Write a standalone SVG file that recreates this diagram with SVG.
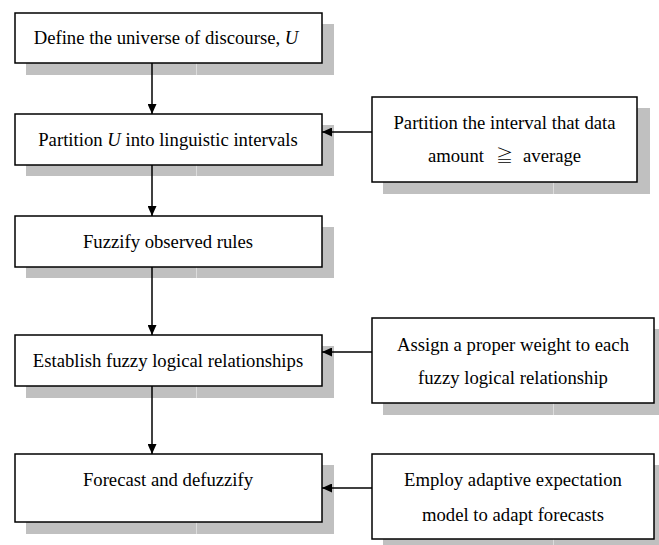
<svg xmlns="http://www.w3.org/2000/svg" width="659" height="545" viewBox="0 0 659 545">
<defs>
<style>
.sh{fill:#c0c0c0}
.seam{stroke:#dcdcdc;stroke-width:1}
.bx{fill:#fff;stroke:#000;stroke-width:1.5}
.t{font-family:"Liberation Serif","Times New Roman",serif;font-size:18.7px;fill:#000;text-anchor:middle}
.ge{font-family:"Noto Sans CJK JP","DejaVu Serif",serif;font-size:17px;font-weight:300}
.ln{stroke:#000;stroke-width:1.5;fill:none}
</style>
<marker id="ah" viewBox="0 0 10 9" refX="10" refY="4.5" markerWidth="10" markerHeight="9" markerUnits="userSpaceOnUse" orient="auto">
<path d="M0,0 L10,4.5 L0,9 Z" fill="#000"/>
</marker>
</defs>
<rect width="659" height="545" fill="#fff"/>
<g id="n1">
<rect class="sh" x="26" y="24" width="308" height="51"/>
<line class="seam" x1="196.5" y1="63" x2="196.5" y2="75"/>
<rect class="bx" x="15" y="13" width="307" height="50"/>
<text class="t" x="166" y="44">Define the universe of discourse, <tspan font-style="italic">U</tspan></text>
</g>
<g id="n2">
<rect class="sh" x="26" y="125" width="308" height="51"/>
<line class="seam" x1="196.5" y1="165" x2="196.5" y2="176"/>
<rect class="bx" x="15" y="114" width="307" height="51"/>
<text class="t" x="168" y="146">Partition <tspan font-style="italic">U</tspan> into linguistic intervals</text>
</g>
<g id="n3">
<rect class="sh" x="26" y="227" width="308" height="51"/>
<line class="seam" x1="196.5" y1="267" x2="196.5" y2="278"/>
<rect class="bx" x="15" y="216" width="307" height="51"/>
<text class="t" x="168" y="248">Fuzzify observed rules</text>
</g>
<g id="n4">
<rect class="sh" x="26" y="346" width="308" height="52"/>
<line class="seam" x1="196.5" y1="386" x2="196.5" y2="398"/>
<rect class="bx" x="15" y="335" width="307" height="51"/>
<text class="t" x="168" y="367">Establish fuzzy logical relationships</text>
</g>
<g id="n5">
<rect class="sh" x="26" y="465" width="308" height="69"/>
<line class="seam" x1="196.5" y1="522" x2="196.5" y2="534"/>
<rect class="bx" x="15" y="454" width="307" height="68"/>
<text class="t" x="168" y="486">Forecast and defuzzify</text>
</g>
<g id="r1">
<rect class="sh" x="383" y="108" width="267" height="86"/>
<line class="seam" x1="553.5" y1="182" x2="553.5" y2="194"/>
<rect class="bx" x="372" y="97" width="265" height="85"/>
<text class="t" x="504.5" y="129">Partition the interval that data</text>
<text class="t" x="484" y="162" style="text-anchor:end">amount</text>
<text class="t ge" x="504.5" y="162">≧</text>
<text class="t" x="523" y="162" style="text-anchor:start">average</text>
</g>
<g id="r2">
<rect class="sh" x="383" y="329" width="283" height="86"/>
<line class="seam" x1="553.5" y1="403" x2="553.5" y2="415"/>
<rect class="bx" x="372" y="318" width="282" height="85"/>
<text class="t" x="513" y="351">Assign a proper weight to each</text>
<text class="t" x="513" y="384">fuzzy logical relationship</text>
</g>
<g id="r3">
<rect class="sh" x="383" y="465" width="283" height="85"/>
<line class="seam" x1="553.5" y1="539" x2="553.5" y2="545"/>
<rect class="bx" x="372" y="454" width="282" height="85"/>
<text class="t" x="513" y="486">Employ adaptive expectation</text>
<text class="t" x="513" y="521">model to adapt forecasts</text>
</g>
<g id="connectors">
<line class="ln" x1="152" y1="63" x2="152" y2="114" marker-end="url(#ah)"/>
<line class="ln" x1="152" y1="165" x2="152" y2="216" marker-end="url(#ah)"/>
<line class="ln" x1="152" y1="267" x2="152" y2="335" marker-end="url(#ah)"/>
<line class="ln" x1="152" y1="386" x2="152" y2="454" marker-end="url(#ah)"/>
<line class="ln" x1="372" y1="132" x2="322" y2="132" marker-end="url(#ah)"/>
<line class="ln" x1="372" y1="352" x2="322" y2="352" marker-end="url(#ah)"/>
<line class="ln" x1="372" y1="488" x2="322" y2="488" marker-end="url(#ah)"/>
</g>
</svg>
